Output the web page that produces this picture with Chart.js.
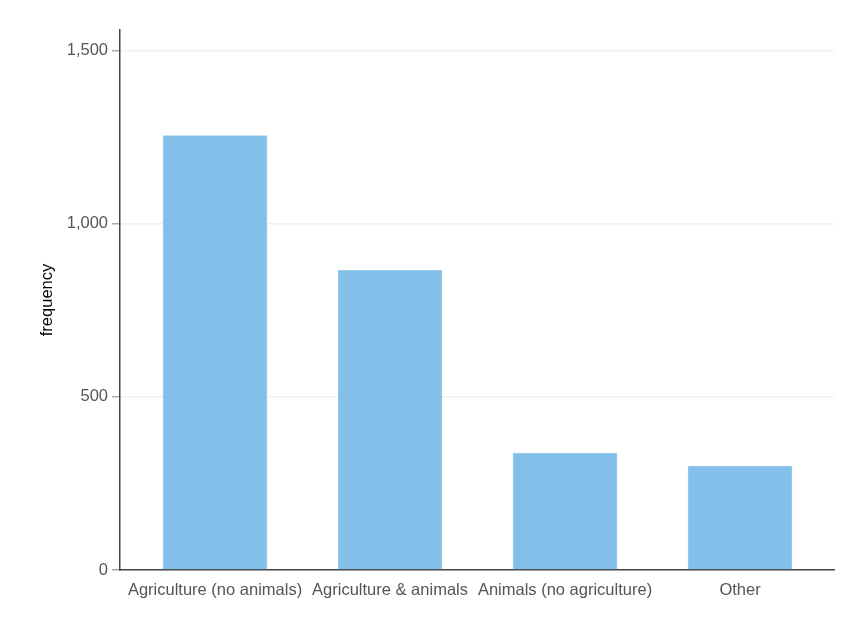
<!DOCTYPE html>
<html lang="en">
<head>
    <meta charset="UTF-8">
    <title>Frequency by category</title>
    <script src="https://cdn.jsdelivr.net/npm/chart.js"></script>
    <style>
        body { margin: 0; background: #fff; }
        #wrap { width: 843px; height: 617px; }
    </style>
</head>
<body>
    <div id="wrap"><canvas id="barChart" width="843" height="617"></canvas></div>

    <script>
        // values
        const categories = ['Agriculture (no animals)', 'Agriculture & animals', 'Animals (no agriculture)', 'Other'];
        const frequency = [1255, 866, 338, 300];
        const yTicks = [0, 500, 1000, 1500];

        const points = frequency.map((v, i) => ({ x: i, y: v }));
        const font = { family: 'Liberation Sans, Arial, sans-serif', size: 16.5 };

        const ctx = document.getElementById('barChart').getContext('2d');
        const barChart = new Chart(ctx, {
            type: 'bar',
            data: {
                datasets: [{
                    label: 'frequency',
                    data: points,
                    backgroundColor: '#82bfe9',
                    borderColor: '#9fcdee',
                    borderWidth: 1,
                    barThickness: 104
                }]
            },
            options: {
                responsive: false,
                animation: false,
                layout: { padding: { left: 0, right: 9, top: 30, bottom: 0 } },
                plugins: {
                    legend: { display: false },
                    tooltip: { enabled: false }
                },
                scales: {
                    x: {
                        type: 'linear',
                        offset: false,
                        min: -0.543,
                        max: 3.537,
                        grid: { display: false, drawTicks: false, offset: false },
                        border: { display: true, color: '#444', width: 1.5 },
                        afterBuildTicks: scale => { scale.ticks = categories.map((_, i) => ({ value: i })); },
                        afterFit: scale => { scale.height = 47; },
                        ticks: {
                            color: '#555',
                            padding: 11,
                            maxRotation: 0,
                            autoSkip: false,
                            font: font,
                            callback: v => categories[v]
                        }
                    },
                    y: {
                        min: 0,
                        max: 1560,
                        grid: { color: '#ebf2f5', lineWidth: 1.5, tickColor: '#aaa', tickLength: 8 },
                        border: { display: true, color: '#444', width: 1.5 },
                        afterBuildTicks: scale => { scale.ticks = yTicks.map(v => ({ value: v })); },
                        afterFit: scale => { scale.width = 120; },
                        title: {
                            display: true,
                            text: 'frequency',
                            color: '#000',
                            padding: { top: 38, bottom: 0 },
                            font: font
                        },
                        ticks: {
                            color: '#555',
                            padding: 4,
                            font: font
                        }
                    }
                }
            }
        });
    </script>
</body>
</html>
